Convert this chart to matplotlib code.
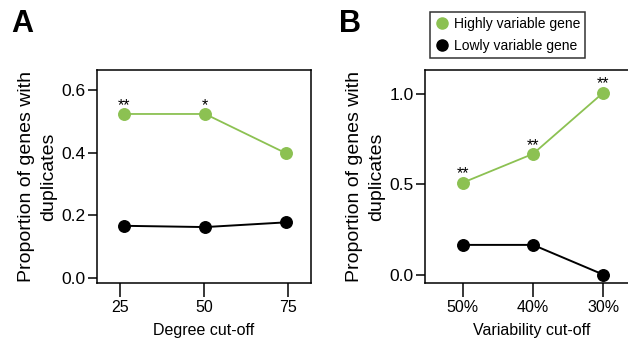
import matplotlib
matplotlib.use('Agg')
import matplotlib.pyplot as plt
from matplotlib.lines import Line2D
from matplotlib.ticker import FormatStrFormatter

plt.rcParams['font.family'] = ['Liberation Sans', 'DejaVu Sans']

green = '#8cc152'

# panel A: degree cut-off
degree_ticks = [25, 50, 75]
degree_x = [26.3, 50.3, 74.3]
deg_high = [0.523, 0.523, 0.398]
deg_low = [0.167, 0.163, 0.178]
deg_stars = ['**', '*', '']

# panel B: variability cut-off
var_labels = ['50%', '40%', '30%']
var_high = [0.51, 0.67, 1.01]
var_low = [0.165, 0.165, 0.0]
var_stars = ['**', '**', '**']

W, H = 628, 340
fig = plt.figure(figsize=(W / 100, H / 100), dpi=100)
axA = fig.add_axes([96.7 / W, 1 - 283.3 / H, 214.3 / W, 213.3 / H])
axB = fig.add_axes([425 / W, 1 - 283.3 / H, 214.3 / W, 213.3 / H])


def panel(ax, x, high, low, stars):
    ax.plot(x, low, color='black', lw=1.4, marker='o', ms=8.3, zorder=3)
    ax.plot(x, high, color=green, lw=1.3, marker='o', ms=8.3, zorder=3)
    for xi, yi, s in zip(x, high, stars):
        if s:
            ax.annotate(s, (xi, yi), xytext=(0, 3), textcoords='offset points',
                        ha='center', va='baseline', fontsize=11.5)
    for sp in ax.spines.values():
        sp.set_linewidth(1.1)
    ax.tick_params(axis='x', direction='out', length=10, width=1.1, pad=2, labelsize=11.5)
    ax.tick_params(axis='y', direction='out', length=6.5, width=1.1, pad=1.5, labelsize=12.5)
    ax.set_ylabel('Proportion of genes with\nduplicates', fontsize=14, linespacing=1.4,
                  labelpad=3)
    ax.yaxis.set_major_formatter(FormatStrFormatter('%.1f'))


panel(axA, degree_x, deg_high, deg_low, deg_stars)
axA.set_xlim(18.08, 81.74)
axA.set_ylim(-0.016, 0.663)
axA.set_xticks(degree_ticks)
axA.set_yticks([0, 0.2, 0.4, 0.6])
axA.set_xlabel('Degree cut-off', fontsize=11.5, labelpad=6)

panel(axB, range(len(var_labels)), var_high, var_low, var_stars)
axB.set_xlim(-0.536, 2.51)
axB.set_ylim(-0.048, 1.135)
axB.set_xticks(range(len(var_labels)))
axB.set_xticklabels(var_labels)
axB.set_yticks([0, 0.5, 1.0])
axB.set_xlabel('Variability cut-off', fontsize=11.5, labelpad=6)

handles = [Line2D([], [], ls='none', marker='o', ms=8, color=green),
           Line2D([], [], ls='none', marker='o', ms=8, color='black')]
leg = fig.legend(handles, ['Highly variable gene', 'Lowly variable gene'],
                 loc='upper left', bbox_to_anchor=(430 / W, 1 - 12 / H),
                 frameon=True, fancybox=False, edgecolor='black', fontsize=10,
                 handletextpad=0.35, borderpad=0.35, labelspacing=0.6,
                 handlelength=1, borderaxespad=0)
leg.get_frame().set_linewidth(1.1)

fig.text(11 / W, 1 - 32 / H, 'A', fontsize=22, fontweight='bold', va='baseline')
fig.text(339 / W, 1 - 32 / H, 'B', fontsize=22, fontweight='bold', va='baseline')

fig.savefig('out.png', dpi=100)
